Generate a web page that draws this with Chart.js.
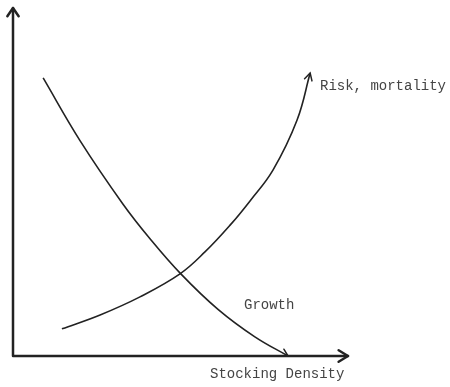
<!DOCTYPE html>
<html>
<head>
<meta charset="utf-8">
<script src="https://cdn.jsdelivr.net/npm/chart.js@4/dist/chart.umd.min.js"></script>
<style>
  body { margin: 0; background: #fff; }
  #wrap { width: 450px; height: 387px; }
</style>
</head>
<body>
<div id="wrap"><canvas id="c" width="450" height="387"></canvas></div>
<script>
// values (arbitrary units, 0..100 on both axes)
const growthX = [9, 20, 32.8, 40.9, 50.1, 61.2, 72.2, 82.1];
const growthY = [79.9, 61.9, 43.7, 33.7, 23.6, 13.4, 5.5, 0];
const riskX = [14.6, 26, 37.9, 49.85, 57.3, 64.8, 70.7, 77.6, 84.8, 88.7];
const riskY = [7.8, 11.8, 17, 23.6, 29.9, 37.6, 44.5, 53.4, 67.8, 81.3];

const xTitle = 'Stocking Density';
const growthLabel = 'Growth';
const riskLabel = 'Risk, mortality';

const ink = '#222';
const textInk = '#444';
const font = '14px "Liberation Mono", "DejaVu Sans Mono", monospace';

function pts(xs, ys) {
    return xs.map((x, i) => ({ x: x, y: ys[i] }));
}

function arrowHead(ctx, x1, y1, x2, y2, len, spread) {
    const a = Math.atan2(y2 - y1, x2 - x1);
    ctx.beginPath();
    ctx.moveTo(x2 - len * Math.cos(a - spread), y2 - len * Math.sin(a - spread));
    ctx.lineTo(x2, y2);
    ctx.lineTo(x2 - len * Math.cos(a + spread), y2 - len * Math.sin(a + spread));
    ctx.stroke();
}

const sketch = {
    id: 'sketch',
    beforeDatasetsDraw(chart) {
        const ctx = chart.ctx;
        const xs = chart.scales.x, ys = chart.scales.y;
        const x0 = xs.getPixelForValue(0), y0 = ys.getPixelForValue(0);
        const xEnd = xs.getPixelForValue(100), yEnd = ys.getPixelForValue(100);
        ctx.save();
        ctx.strokeStyle = ink;
        ctx.lineWidth = 2.5;
        ctx.lineCap = 'round';
        ctx.lineJoin = 'round';
        ctx.beginPath();
        ctx.moveTo(x0, yEnd);
        ctx.lineTo(x0, y0);
        ctx.lineTo(xEnd, y0);
        ctx.stroke();
        arrowHead(ctx, x0, y0, x0, yEnd, 10, 0.6);
        arrowHead(ctx, x0, y0, xEnd, y0, 11, 0.55);
        ctx.restore();
    },
    afterDatasetsDraw(chart) {
        const ctx = chart.ctx;
        ctx.save();
        ctx.strokeStyle = ink;
        ctx.lineWidth = 1.5;
        ctx.lineCap = 'round';
        chart.data.datasets.forEach((ds, i) => {
            const p = chart.getDatasetMeta(i).data;
            const a = p[p.length - 2], b = p[p.length - 1];
            arrowHead(ctx, a.x, a.y, b.x, b.y, 8, 0.5);
        });
        ctx.fillStyle = textInk;
        ctx.font = font;
        ctx.textBaseline = 'middle';
        ctx.textAlign = 'left';
        ctx.fillText(riskLabel, 320, 86);
        ctx.fillText(growthLabel, 244, 305);
        ctx.fillText(xTitle, 210, 374);
        ctx.restore();
    }
};

new Chart(document.getElementById('c'), {
    type: 'line',
    data: {
        datasets: [
            {
                label: growthLabel,
                data: pts(growthX, growthY),
                borderColor: ink,
                borderWidth: 1.6,
                pointRadius: 0,
                tension: 0.4,
                fill: false
            },
            {
                label: riskLabel,
                data: pts(riskX, riskY),
                borderColor: ink,
                borderWidth: 1.6,
                pointRadius: 0,
                tension: 0.4,
                fill: false
            }
        ]
    },
    options: {
        responsive: false,
        animation: false,
        layout: { padding: { left: 13, right: 102, top: 8, bottom: 31 } },
        plugins: { legend: { display: false }, tooltip: { enabled: false } },
        scales: {
            x: { type: 'linear', min: 0, max: 100, display: false },
            y: { type: 'linear', min: 0, max: 100, display: false }
        }
    },
    plugins: [sketch]
});
</script>
</body>
</html>
